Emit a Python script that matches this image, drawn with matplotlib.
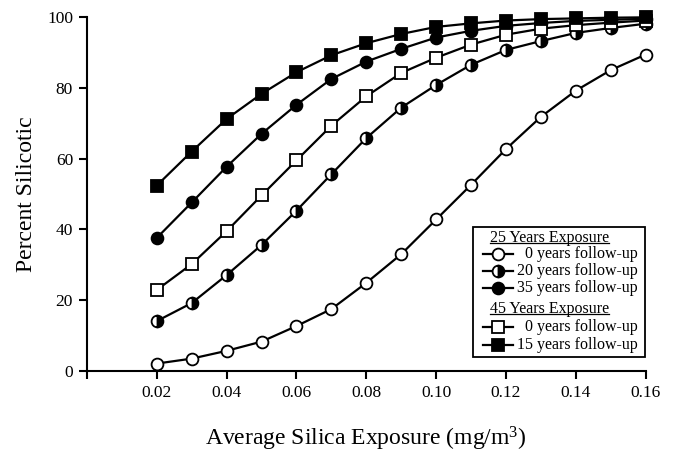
import matplotlib
matplotlib.use("Agg")
import matplotlib.pyplot as plt
from matplotlib.lines import Line2D
from matplotlib.patches import Rectangle

plt.rcParams['font.family'] = ['Liberation Serif', 'DejaVu Serif']
plt.rcParams['mathtext.fontset'] = 'custom'
plt.rcParams['mathtext.rm'] = 'Liberation Serif'
plt.rcParams['mathtext.it'] = 'Liberation Serif'

exposure = [0.02, 0.03, 0.04, 0.05, 0.06, 0.07, 0.08, 0.09, 0.10, 0.11, 0.12, 0.13, 0.14, 0.15, 0.16]

e25_fu0 = [2.1, 3.5, 5.7, 8.3, 12.7, 17.5, 24.9, 33.0, 42.8, 52.6, 62.7, 71.8, 79.2, 85.0, 89.4]
e25_fu20 = [14.1, 19.2, 27.1, 35.6, 45.3, 55.6, 65.8, 74.4, 80.8, 86.5, 90.7, 93.2, 95.5, 96.9, 98.1]
e25_fu35 = [37.6, 47.6, 57.7, 67.0, 75.2, 82.5, 87.4, 91.0, 94.2, 96.1, 97.5, 98.3, 98.9, 99.2, 99.5]
e45_fu0 = [22.9, 30.2, 39.5, 49.6, 59.5, 69.3, 77.6, 84.2, 88.5, 92.2, 95.0, 96.7, 97.7, 98.4, 99.0]
e45_fu15 = [52.4, 62.0, 71.2, 78.3, 84.4, 89.2, 92.6, 95.2, 97.2, 98.2, 99.0, 99.4, 99.6, 99.8, 99.9]

xticks = [0.0, 0.02, 0.04, 0.06, 0.08, 0.10, 0.12, 0.14, 0.16]
xticklabels = ['', '0.02', '0.04', '0.06', '0.08', '0.10', '0.12', '0.14', '0.16']
yticks = [0, 20, 40, 60, 80, 100]

header1 = '25 Years Exposure'
header2 = '45 Years Exposure'
labels = ['  0 years follow-up', '20 years follow-up', '35 years follow-up',
          '  0 years follow-up', '15 years follow-up']

base = dict(color='black', lw=1.6, markersize=8.5, markeredgewidth=1.3,
            markeredgecolor='black')
styles = [
    dict(marker='o', markerfacecolor='white'),
    dict(marker='o', markerfacecolor='black', fillstyle='right', markerfacecoloralt='white'),
    dict(marker='o', markerfacecolor='black'),
    dict(marker='s', markerfacecolor='white', markersize=8),
    dict(marker='s', markerfacecolor='black', markersize=8),
]
series = [e25_fu0, e25_fu20, e25_fu35, e45_fu0, e45_fu15]

fig = plt.figure(figsize=(6.74, 4.53), dpi=100)
ax = fig.add_axes([0.129, 0.181, 0.829, 0.7815])

order = [0, 1, 3, 2, 4]
for i in order:
    st = dict(base)
    st.update(styles[i])
    ax.plot(exposure, series[i], zorder=3 + i, clip_on=False, **st)

ax.set_xlim(0, 0.16)
ax.set_ylim(0, 100)
ax.set_xticks(xticks)
ax.set_xticklabels(xticklabels)
ax.set_yticks(yticks)
for s in ['top', 'right']:
    ax.spines[s].set_visible(False)
for s in ['left', 'bottom']:
    ax.spines[s].set_linewidth(1.5)
ax.tick_params(axis='both', direction='out', length=6, width=1.5, labelsize=12.5, pad=4)
ax.set_xlabel('Average Silica Exposure (mg/m$^{3}$)', fontsize=17, labelpad=17)
ax.set_ylabel('Percent Silicotic', fontsize=17, labelpad=7)

# legend drawn in axes coordinates
bx0, bx1, by0, by1 = 0.6905, 0.998, 0.0395, 0.4068
ax.add_patch(Rectangle((bx0, by0), bx1 - bx0, by1 - by0, transform=ax.transAxes,
                       facecolor='white', edgecolor='black', lw=1.3, zorder=20))

def py(p):
    return (371 - p) / 354.0

def px(p):
    return (p - 87) / 559.0

rows = [(header1, None, 238), (labels[0], 0, 254), (labels[1], 1, 271), (labels[2], 2, 288),
        (header2, None, 309), (labels[3], 3, 327), (labels[4], 4, 345)]
fig.canvas.draw()
renderer = fig.canvas.get_renderer()
for text, idx, ypix in rows:
    if idx is None:
        t = ax.text(px(490), py(ypix), text, transform=ax.transAxes, fontsize=11.5,
                    va='center', ha='left', zorder=21)
        bb = t.get_window_extent(renderer=renderer)
        inv = ax.transAxes.inverted()
        (x0, y0), (x1, y1) = inv.transform([(bb.x0, bb.y0), (bb.x1, bb.y1)])
        ax.add_line(Line2D([x0, x1], [y0 + 0.009, y0 + 0.009], transform=ax.transAxes,
                           color='black', lw=0.9, zorder=21))
    else:
        st = dict(base)
        st.update(styles[idx])
        mk = {k: v for k, v in st.items() if k != 'lw'}
        ax.add_line(Line2D([px(483), px(513)], [py(ypix), py(ypix)], transform=ax.transAxes,
                           color='black', lw=1.6, zorder=21))
        ax.add_line(Line2D([px(498)], [py(ypix)], transform=ax.transAxes, lw=0,
                           zorder=22, **{k: v for k, v in mk.items() if k != 'color'}))
        ax.text(px(517), py(ypix), text, transform=ax.transAxes, fontsize=11.5,
                va='center', ha='left', zorder=21)

fig.savefig('out.png', dpi=100)
